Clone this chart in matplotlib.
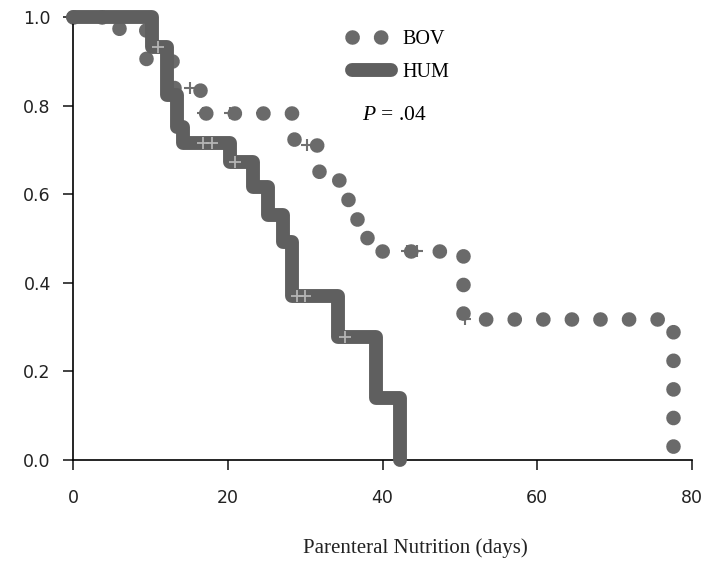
import matplotlib
matplotlib.use("Agg")
import matplotlib.pyplot as plt

# Kaplan-Meier estimates (days, proportion)
hum_t = [0, 10.2, 12.1, 13.4, 14.2, 20.3, 23.3, 25.2, 27.1, 28.3, 34.3, 39.2, 42.3]
hum_s = [1.0, 0.932, 0.824, 0.752, 0.716, 0.673, 0.616, 0.553, 0.492, 0.370, 0.278, 0.140, 0.0]
hum_cens_t = [11.0, 16.8, 18.0, 20.9, 28.9, 30.0, 35.1]
hum_cens_s = [0.932, 0.716, 0.716, 0.673, 0.370, 0.370, 0.278]

bov_t = [0, 6.0, 9.4, 13.0, 16.4, 28.6, 31.8, 35.5, 36.7, 38.0, 50.4, 77.6]
bov_s = [1.0, 0.97, 0.90, 0.84, 0.784, 0.71, 0.631, 0.559, 0.512, 0.471, 0.318, 0.0]
bov_cens_t = [15.1, 16.8, 20.3, 24.4, 30.2, 43.2, 44.4, 50.6]
bov_cens_s = [0.84, 0.784, 0.784, 0.784, 0.71, 0.471, 0.471, 0.318]

x_ticks = [0, 20, 40, 60, 80]
y_ticks = [0.0, 0.2, 0.4, 0.6, 0.8, 1.0]
p_text = "$P$ = .04"

plt.rcParams['mathtext.fontset'] = 'custom'
plt.rcParams['mathtext.rm'] = 'Liberation Serif'
plt.rcParams['mathtext.it'] = 'Liberation Serif:italic'

fig = plt.figure(figsize=(7.07, 5.61), dpi=100)
ax = fig.add_axes([0.1033, 0.18, 0.8755, 0.7897])

# BOV: dotted step curve
bov_line, = ax.step(bov_t, bov_s, where='post', color='#6a6a6a', lw=10.5,
                    linestyle=(0, (0.01, 1.95)), dash_capstyle='round',
                    clip_on=False, zorder=2, label='BOV')
ax.plot(bov_cens_t, bov_cens_s, '+', color='#707070', ms=9, mew=1.5, zorder=1.5)

# HUM: thick solid step curve
hum_line, = ax.step(hum_t, hum_s, where='post', color='#5f5f5f', lw=10,
                    solid_capstyle='round', solid_joinstyle='round',
                    clip_on=False, zorder=3, label='HUM')
ax.plot(hum_cens_t, hum_cens_s, '+', color='#b4b4b4', ms=9, mew=1.3, zorder=4)

ax.set_xlim(0, 80)
ax.set_ylim(0, 1.0)
ax.set_xticks(x_ticks)
ax.set_yticks(y_ticks)
ax.set_yticklabels([f"{v:.1f}" for v in y_ticks])
ax.spines['top'].set_visible(False)
ax.spines['right'].set_visible(False)
for s in ['left', 'bottom']:
    ax.spines[s].set_linewidth(1.2)
ax.tick_params(axis='both', direction='out', length=7, width=1.2,
               labelsize=12.5, colors='#222222')
ax.tick_params(axis='x', pad=14)
ax.tick_params(axis='y', pad=9)

leg = ax.legend(handles=[bov_line, hum_line], loc='upper left',
                bbox_to_anchor=(0.422, 1.012), frameon=False,
                prop={'family': 'Liberation Serif', 'size': 14.5},
                handlelength=1.9, handletextpad=0.6, labelspacing=0.68)

ax.text(0.467, 0.778, p_text, transform=ax.transAxes, fontsize=15.5,
        family='Liberation Serif', va='center', ha='left')

fig.text(0.588, 0.023, "Parenteral Nutrition (days)", ha='center', va='center',
         family='Liberation Serif', fontsize=15, color='#222222')

fig.savefig('out.png', dpi=100)
